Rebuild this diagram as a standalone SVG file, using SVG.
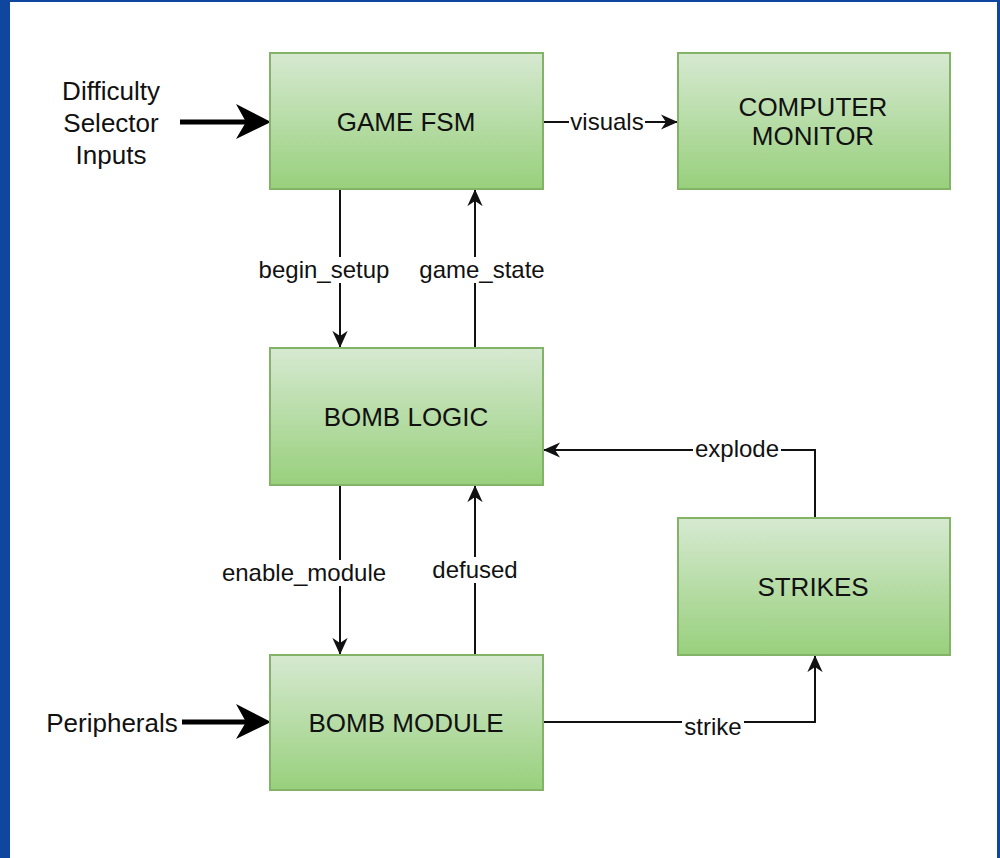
<svg xmlns="http://www.w3.org/2000/svg" width="1000" height="858" viewBox="0 0 1000 858">
<style>
.box{fill:url(#g);stroke:#82b366;stroke-width:2}
.t{font-family:"Liberation Sans",Arial,sans-serif;font-size:26px;fill:#111;text-anchor:middle}
.e{font-family:"Liberation Sans",Arial,sans-serif;font-size:24px;fill:#111;text-anchor:middle}
.c{fill:none;stroke:#111;stroke-width:2}
.k{fill:none;stroke:#000;stroke-width:5}
.bg{fill:#fff}
</style>
<defs>
<linearGradient id="g" x1="0" y1="0" x2="0" y2="1">
<stop offset="0" stop-color="#d6e9d1"/>
<stop offset="1" stop-color="#98d07c"/>
</linearGradient>
<marker id="s" viewBox="0 0 10 10" refX="9.5" refY="5" markerWidth="17" markerHeight="17" markerUnits="userSpaceOnUse" orient="auto">
<path d="M0,0.5 L10,5 L0,9.5 L3,5 Z" fill="#111"/>
</marker>
</defs>
<rect x="0" y="0" width="1000" height="858" fill="#fff"/>
<rect x="0" y="0" width="10" height="858" fill="#0f46a0"/>
<rect x="0" y="0" width="1000" height="2" fill="#0f46a0"/>
<rect x="997" y="0" width="3" height="858" fill="#0f46a0"/>

<g id="connectors">
<path class="k" d="M180,122 H248"/>
<path d="M236,104 L271,122 L236,139 L246,122 Z" fill="#000"/>
<path class="k" d="M182,722 H248"/>
<path d="M236,704 L271,722 L236,739 L246,722 Z" fill="#000"/>
<path class="c" d="M543,122 H677" marker-end="url(#s)"/>
<path class="c" d="M340,189 V347" marker-end="url(#s)"/>
<path class="c" d="M475,348 V190" marker-end="url(#s)"/>
<path class="c" d="M815,518 V450 H544" marker-end="url(#s)"/>
<path class="c" d="M340,485 V654" marker-end="url(#s)"/>
<path class="c" d="M475,655 V486" marker-end="url(#s)"/>
<path class="c" d="M543,722 H815 V656" marker-end="url(#s)"/>
<rect class="bg" x="569" y="110" width="76" height="26"/>
<text class="e" x="607" y="130">visuals</text>
<rect class="bg" x="254" y="257" width="140" height="26"/>
<text class="e" x="324" y="278">begin_setup</text>
<rect class="bg" x="416" y="257" width="132" height="26"/>
<text class="e" x="482" y="278">game_state</text>
<rect class="bg" x="693" y="437" width="88" height="26"/>
<text class="e" x="737" y="457">explode</text>
<rect class="bg" x="218" y="560" width="172" height="26"/>
<text class="e" x="304" y="581">enable_module</text>
<rect class="bg" x="429" y="557" width="92" height="26"/>
<text class="e" x="475" y="578">defused</text>
<rect class="bg" x="682" y="714" width="62" height="26"/>
<text class="e" x="713" y="735">strike</text>
</g>

<g id="difficulty">
<text class="t" x="111" y="100">Difficulty</text>
<text class="t" x="111" y="132">Selector</text>
<text class="t" x="111" y="164">Inputs</text>
</g>
<g id="peripherals">
<text class="t" x="112" y="732">Peripherals</text>
</g>

<g id="game-fsm">
<rect class="box" x="270" y="53" width="273" height="136"/>
<text class="t" x="406" y="131">GAME FSM</text>
</g>
<g id="computer-monitor">
<rect class="box" x="678" y="53" width="272" height="136"/>
<text class="t" x="813" y="116">COMPUTER</text>
<text class="t" x="813" y="145">MONITOR</text>
</g>
<g id="bomb-logic">
<rect class="box" x="270" y="348" width="273" height="137"/>
<text class="t" x="406" y="426">BOMB LOGIC</text>
</g>
<g id="strikes">
<rect class="box" x="678" y="518" width="272" height="137"/>
<text class="t" x="813" y="596">STRIKES</text>
</g>
<g id="bomb-module">
<rect class="box" x="270" y="655" width="273" height="135"/>
<text class="t" x="406" y="732">BOMB MODULE</text>
</g>
</svg>
